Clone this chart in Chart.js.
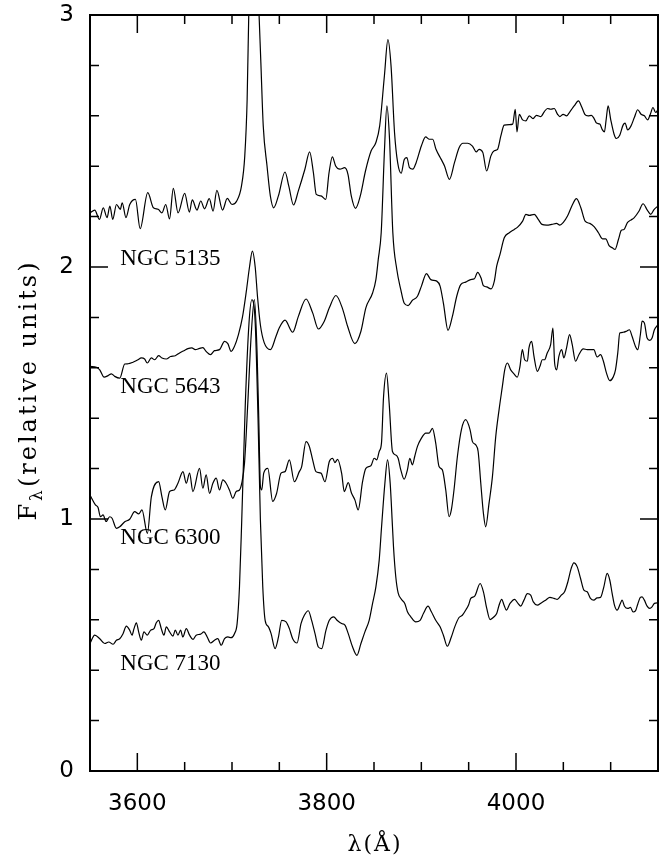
<!DOCTYPE html>
<html>
<head>
<meta charset="utf-8">
<script src="https://cdn.jsdelivr.net/npm/chart.js@4.4.1/dist/chart.umd.min.js"></script>
<style>
  html, body { margin: 0; padding: 0; background: #fff; }
  #spectra { display: block; }
</style>
</head>
<body>
<canvas id="spectra" width="661" height="861"></canvas>
<script>
// ===== DATA =====
const xTickLabels = [3600, 3800, 4000];
const yTickLabels = [0, 1, 2, 3];
const galaxyNames = ['NGC 5135', 'NGC 5643', 'NGC 6300', 'NGC 7130'];

// each spectrum: [wavelength (Å), relative flux]
const ngc5135 = [
  [3550, 2.215], [3555, 2.226], [3560, 2.189], [3564, 2.235], [3568, 2.196], [3571, 2.242],
  [3574, 2.189], [3578, 2.248], [3582, 2.229], [3584, 2.255], [3588, 2.196], [3592, 2.248],
  [3598, 2.268], [3603, 2.152], [3611, 2.295], [3617, 2.235], [3622, 2.229], [3626, 2.215],
  [3630, 2.248], [3634, 2.191], [3638, 2.312], [3643, 2.215], [3650, 2.292], [3655, 2.218],
  [3658, 2.266], [3663, 2.226], [3667, 2.262], [3671, 2.231], [3676, 2.271], [3680, 2.222],
  [3684, 2.304], [3690, 2.226], [3695, 2.272], [3700, 2.248], [3705, 2.262], [3710, 2.321],
  [3713.5, 2.441], [3716, 2.666], [3718, 3.06], [3723, 3.6], [3728, 3.06], [3730.5, 2.81],
  [3733, 2.56], [3737, 2.401], [3740.5, 2.282], [3744, 2.235], [3749, 2.282], [3756, 2.377],
  [3760, 2.321], [3765, 2.246], [3770, 2.301], [3777, 2.388], [3782, 2.457], [3786, 2.374],
  [3789, 2.288], [3794, 2.282], [3799, 2.268], [3802.5, 2.374], [3806, 2.437], [3809.5, 2.401],
  [3814, 2.388], [3819, 2.394], [3822.5, 2.368], [3826, 2.282], [3830.5, 2.233], [3835.5, 2.282],
  [3841, 2.381], [3847, 2.461], [3852, 2.494], [3856, 2.56], [3861, 2.759], [3864.7, 2.902],
  [3868, 2.798], [3871.7, 2.533], [3875, 2.414], [3878.7, 2.372], [3882, 2.427], [3884.7, 2.434],
  [3887.5, 2.394], [3891, 2.388], [3894.5, 2.414], [3900, 2.48], [3904.5, 2.516], [3908.5, 2.507],
  [3912, 2.507], [3915.5, 2.467], [3921, 2.427], [3924.5, 2.401], [3929.7, 2.348], [3935, 2.414],
  [3940, 2.474], [3944, 2.491], [3949, 2.491], [3954, 2.48], [3958, 2.457], [3961, 2.467],
  [3965, 2.454], [3969, 2.381], [3973.5, 2.441], [3977, 2.461], [3980.5, 2.467], [3984, 2.52],
  [3987.5, 2.563], [3993, 2.565], [3996.5, 2.567], [3999.2, 2.626], [4001, 2.536], [4003.5, 2.606],
  [4007, 2.584], [4010.5, 2.58], [4014, 2.6], [4018, 2.589], [4021.7, 2.602], [4026.3, 2.597],
  [4029.8, 2.616], [4033.3, 2.629], [4036.8, 2.626], [4040.4, 2.629], [4043.9, 2.606], [4046.3, 2.597],
  [4049.8, 2.606], [4053.4, 2.6], [4056.9, 2.616], [4061.4, 2.639], [4066, 2.659], [4069.2, 2.637],
  [4072.7, 2.606], [4076.2, 2.6], [4079.7, 2.602], [4082.5, 2.589], [4085, 2.571], [4088.5, 2.567],
  [4091.3, 2.544], [4093.4, 2.536], [4095.2, 2.584], [4097.3, 2.639], [4100.1, 2.584], [4103.6, 2.527],
  [4106.1, 2.51], [4109.6, 2.523], [4113.1, 2.563], [4115.2, 2.571], [4118, 2.544], [4121.5, 2.56],
  [4125, 2.593], [4128.6, 2.624], [4132.1, 2.606], [4135.6, 2.6], [4139.1, 2.584], [4141.9, 2.606],
  [4144.7, 2.633], [4147.5, 2.613], [4150, 2.624]
];

const ngc5643 = [
  [3550, 1.606], [3556.8, 1.602], [3560.3, 1.592], [3564.9, 1.563], [3569.1, 1.569], [3572.6, 1.576],
  [3576.1, 1.566], [3581.4, 1.559], [3586.7, 1.615], [3590.2, 1.616], [3595.4, 1.622], [3600.7, 1.632],
  [3604.2, 1.639], [3607.7, 1.635], [3610.5, 1.619], [3614.8, 1.639], [3618.3, 1.632], [3622.5, 1.648],
  [3626, 1.639], [3630.6, 1.635], [3635.1, 1.645], [3640.1, 1.648], [3644.6, 1.659], [3649.2, 1.668],
  [3653.4, 1.676], [3657.6, 1.679], [3661.2, 1.672], [3665.7, 1.677], [3669.2, 1.68], [3672.7, 1.665],
  [3677.3, 1.652], [3681.5, 1.668], [3686.8, 1.672], [3692.1, 1.705], [3695.6, 1.696], [3699.1, 1.665],
  [3702.6, 1.685], [3706.8, 1.732], [3711, 1.8], [3715, 1.9], [3718.5, 2.0], [3721.5, 2.063],
  [3724.5, 2.0], [3727, 1.88], [3730, 1.77], [3734, 1.7], [3740.6, 1.672],
  [3746.5, 1.725], [3749.5, 1.755], [3756, 1.789], [3764.1, 1.741], [3770.1, 1.804], [3778.2, 1.873],
  [3785.2, 1.818], [3791.2, 1.754], [3797.5, 1.785], [3802.8, 1.838], [3809.8, 1.887], [3816.8, 1.834],
  [3822.1, 1.765], [3829.8, 1.696], [3836.2, 1.745], [3841.4, 1.838], [3848.5, 1.897], [3852, 1.95],
  [3854.5, 2.03], [3857.6, 2.136], [3861.1, 2.467], [3863.6, 2.639], [3866.4, 2.507], [3869.9, 2.136],
  [3874.1, 1.99], [3878.3, 1.91], [3881.8, 1.857], [3886, 1.847], [3890.6, 1.868], [3895.9, 1.884],
  [3900.1, 1.924], [3905.4, 1.974], [3910, 1.95], [3916.3, 1.944], [3919.8, 1.924], [3923.3, 1.857],
  [3928.2, 1.749], [3932.8, 1.804], [3937.4, 1.884], [3941.6, 1.93], [3946.8, 1.94], [3952.1, 1.95],
  [3956, 1.953], [3959.5, 1.979], [3963, 1.957], [3965.5, 1.926], [3969, 1.921], [3973.6, 1.913],
  [3977.1, 1.944], [3979.6, 2.003], [3983.1, 2.05], [3987.6, 2.116], [3992.9, 2.136], [3998.2, 2.149],
  [4001.7, 2.158], [4007, 2.182], [4010.5, 2.209], [4014, 2.205], [4019.3, 2.209], [4023.5, 2.189],
  [4027.4, 2.169], [4032.3, 2.166], [4037.9, 2.169], [4042.8, 2.173], [4046.3, 2.166], [4049.8, 2.176],
  [4054.4, 2.202], [4059, 2.242], [4063.9, 2.271], [4068.5, 2.235], [4073, 2.182], [4078, 2.173],
  [4082.5, 2.16], [4087.1, 2.136], [4091.3, 2.112], [4094.8, 2.112], [4098.3, 2.085], [4101.8, 2.076],
  [4104.7, 2.07], [4108.2, 2.109], [4111.3, 2.146], [4114.1, 2.149], [4117.7, 2.176], [4121.2, 2.186],
  [4124.7, 2.195], [4130, 2.222], [4134.2, 2.251], [4138.7, 2.226], [4142.3, 2.209], [4145.8, 2.228],
  [4150, 2.242]
];

const ngc6300 = [
  [3550, 1.095], [3555.7, 1.056], [3558.5, 1.046], [3561, 1.009], [3563.8, 1.016], [3567, 0.99],
  [3570.8, 1.009], [3573.3, 1.003], [3577.9, 0.963], [3581.4, 0.969], [3586.7, 0.989], [3591.9, 0.999],
  [3597.2, 1.029], [3601.4, 1.02], [3604.9, 1.036], [3610.6, 0.943], [3614.8, 1.088], [3622.5, 1.148],
  [3626, 1.088], [3629.5, 1.036], [3634.1, 1.109], [3638.7, 1.115], [3642.9, 1.142], [3648.2, 1.188],
  [3651.7, 1.142], [3655.2, 1.182], [3658.7, 1.109], [3665.7, 1.201], [3669.2, 1.122], [3672.7, 1.175],
  [3676.3, 1.102], [3679.8, 1.142], [3683.3, 1.162], [3686.8, 1.115], [3690.3, 1.155], [3693.8, 1.142],
  [3697.3, 1.115], [3700.9, 1.082], [3704.4, 1.109], [3707.9, 1.115], [3710.3, 1.142], [3713.2, 1.221],
  [3716.7, 1.46], [3720.2, 1.725], [3723.7, 1.871], [3726.5, 1.659], [3728.3, 1.394], [3730, 1.129],
  [3731.4, 1.115], [3733.5, 1.182], [3737.8, 1.201], [3743, 1.07], [3747, 1.1], [3751.8, 1.182],
  [3756, 1.188], [3760.6, 1.235], [3765.9, 1.148], [3771.1, 1.188], [3773.6, 1.208], [3778.2, 1.307],
  [3781.7, 1.288], [3785.2, 1.235], [3788.7, 1.188], [3794, 1.182], [3798.2, 1.148], [3802.8, 1.228],
  [3806.3, 1.241], [3808.7, 1.224], [3811.6, 1.237], [3815.8, 1.182], [3818.6, 1.109], [3822.8, 1.144],
  [3826.3, 1.102], [3829.8, 1.076], [3833.3, 1.036], [3837.9, 1.148], [3841.4, 1.201], [3846.7, 1.211],
  [3850.2, 1.241], [3853, 1.235], [3855.5, 1.268], [3857.9, 1.301], [3860.1, 1.486], [3863.2, 1.579],
  [3866, 1.46], [3869.5, 1.268], [3873, 1.254], [3875.5, 1.241], [3878.3, 1.195], [3881.8, 1.158],
  [3885.3, 1.195], [3887.8, 1.241], [3890.6, 1.215], [3893, 1.248], [3895.9, 1.288], [3900.1, 1.321],
  [3904.7, 1.341], [3908.2, 1.341], [3911.7, 1.36], [3915.2, 1.301], [3918.7, 1.208], [3922.2, 1.195],
  [3925.8, 1.115], [3929.3, 1.009], [3931.7, 1.036], [3934.5, 1.115], [3938.1, 1.248], [3942.3, 1.354],
  [3946.8, 1.394], [3951.5, 1.354], [3954, 1.307], [3957.5, 1.294], [3960, 1.268], [3962.8, 1.142],
  [3965.6, 1.022], [3968, 0.969], [3971.5, 1.062], [3975.1, 1.168], [3978.6, 1.327], [3982.1, 1.433],
  [3985.6, 1.526], [3988.1, 1.592], [3990.9, 1.619], [3994.4, 1.592], [3997.9, 1.576], [4001.4, 1.563],
  [4004.2, 1.606], [4006.7, 1.672], [4009.1, 1.632], [4012, 1.626], [4013.7, 1.679], [4016.5, 1.705],
  [4019, 1.645], [4022.5, 1.586], [4025.3, 1.606], [4027.8, 1.632], [4030.2, 1.632], [4033, 1.659],
  [4036.6, 1.692], [4039, 1.758], [4040.8, 1.619], [4042.9, 1.592], [4045.3, 1.645], [4048.2, 1.672],
  [4050.6, 1.639], [4053.4, 1.679], [4056.6, 1.732], [4059.4, 1.692], [4062.9, 1.626], [4066.4, 1.652],
  [4071, 1.675], [4075.2, 1.672], [4082.2, 1.672], [4085.7, 1.643], [4089.3, 1.652], [4092.1, 1.629],
  [4095.6, 1.579], [4099.1, 1.549], [4102.6, 1.563], [4105.1, 1.592], [4107.5, 1.659], [4109.6, 1.738],
  [4113.2, 1.741], [4116.7, 1.745], [4119.8, 1.751], [4122.6, 1.725], [4126.2, 1.685], [4128.6, 1.672],
  [4131.4, 1.732], [4133.2, 1.785], [4135.6, 1.778], [4138.5, 1.718], [4141.3, 1.709], [4143.7, 1.718],
  [4146.2, 1.751], [4150, 1.771]
];

const ngc7130 = [
  [3550, 0.506], [3555, 0.539], [3560.3, 0.525], [3565.6, 0.506], [3569.8, 0.512], [3574.4, 0.503],
  [3577.9, 0.519], [3581.4, 0.525], [3584.9, 0.545], [3588.4, 0.575], [3591.9, 0.559], [3594.4, 0.539],
  [3596.5, 0.565], [3599, 0.588], [3601.4, 0.552], [3604.2, 0.519], [3607, 0.552], [3610.5, 0.539],
  [3614.1, 0.559], [3617.6, 0.565], [3620, 0.588], [3622.5, 0.598], [3625.3, 0.565], [3628.1, 0.539],
  [3630.6, 0.572], [3634.1, 0.552], [3637.6, 0.535], [3640.1, 0.559], [3642.9, 0.539], [3645.7, 0.559],
  [3648.1, 0.532], [3651.7, 0.565], [3655.2, 0.539], [3658.7, 0.522], [3662.2, 0.539], [3666.8, 0.543],
  [3670.3, 0.552], [3673.8, 0.532], [3677.3, 0.508], [3681.5, 0.519], [3685, 0.525], [3688.6, 0.499],
  [3692.1, 0.525], [3695.6, 0.532], [3699.1, 0.529], [3702.6, 0.545], [3705.4, 0.585], [3707.9, 0.731],
  [3710.3, 0.996], [3714, 1.45], [3718, 1.78], [3721, 1.87], [3724.5, 1.78], [3727.5, 1.4],
  [3730, 0.996], [3732.5, 0.731], [3735, 0.598], [3738.5, 0.572], [3741.3, 0.545], [3745.5, 0.486],
  [3749, 0.53], [3752.5, 0.598], [3757.1, 0.592], [3760.6, 0.565], [3764.1, 0.525], [3768.7, 0.508],
  [3772.9, 0.585], [3776.4, 0.618], [3780.6, 0.636], [3784.1, 0.598], [3787.7, 0.545], [3791.2, 0.492],
  [3794.7, 0.486], [3799.3, 0.559], [3802.8, 0.598], [3807.3, 0.612], [3811.6, 0.596], [3815.8, 0.585],
  [3819.3, 0.579], [3822.8, 0.545], [3827.4, 0.492], [3831.9, 0.459], [3836.2, 0.506], [3840.4, 0.552],
  [3844.9, 0.598], [3848.5, 0.665], [3852, 0.731], [3855.5, 0.837], [3858, 0.969], [3861.5, 1.142],
  [3864.3, 1.235], [3867.1, 1.142], [3869.5, 0.97], [3870.6, 0.89], [3873, 0.771], [3875.5, 0.707],
  [3879, 0.681], [3882.5, 0.665], [3885.3, 0.632], [3888.9, 0.612], [3894.1, 0.592], [3898.7, 0.598],
  [3902.2, 0.625], [3907.1, 0.654], [3910.6, 0.632], [3915.2, 0.598], [3919.8, 0.572], [3923.3, 0.539],
  [3927.5, 0.495], [3931.7, 0.532], [3935.3, 0.572], [3939.8, 0.609], [3943.3, 0.618], [3946.8, 0.638],
  [3950, 0.66], [3952.2, 0.685], [3956.4, 0.694], [3962.1, 0.744], [3965.6, 0.711], [3969.1, 0.645],
  [3972.6, 0.601], [3976.8, 0.612], [3979.6, 0.625], [3982.1, 0.658], [3984.9, 0.681], [3987.4, 0.658],
  [3989.8, 0.638], [3993.7, 0.665], [3998.6, 0.681], [4002.1, 0.665], [4004.9, 0.654], [4008.4, 0.678],
  [4012, 0.704], [4015.5, 0.698], [4018.3, 0.671], [4022.5, 0.658], [4026.7, 0.667], [4031.3, 0.678],
  [4035.8, 0.689], [4040.1, 0.685], [4043.6, 0.681], [4047.8, 0.698], [4051.3, 0.711], [4054.8, 0.751],
  [4058.3, 0.804], [4061.1, 0.826], [4064.7, 0.81], [4068.2, 0.764], [4071.7, 0.718], [4075.2, 0.711],
  [4078.7, 0.685], [4082.2, 0.678], [4085.7, 0.687], [4089.3, 0.689], [4092.8, 0.731], [4096.3, 0.784],
  [4099.1, 0.757], [4101.6, 0.704], [4104, 0.658], [4106.8, 0.638], [4110.3, 0.665], [4112.1, 0.678],
  [4114.6, 0.654], [4118.1, 0.645], [4120.9, 0.649], [4123.7, 0.631], [4126.2, 0.635], [4128.6, 0.662],
  [4131.4, 0.689], [4133.2, 0.691], [4135.6, 0.678], [4138.5, 0.654], [4141.3, 0.645], [4143.7, 0.651],
  [4146.2, 0.665], [4150, 0.667]
];

const spectra = [ngc5135, ngc5643, ngc6300, ngc7130];
// where each galaxy name is written, in data units (λ, F)
const labelAnchors = [[3582, 2.03], [3582, 1.525], [3582, 0.926], [3582, 0.425]];

// ===== CHART =====
const tickFont = { family: '"DejaVu Sans", sans-serif', size: 23 };
const titleFamily = '"DejaVu Serif", serif';

// draw text with extra letter spacing
function spacedText(ctx, text, x, y, spacing) {
    let cx = x;
    for (const ch of text) {
        ctx.fillText(ch, cx, y);
        cx += ctx.measureText(ch).width + spacing;
    }
    return cx;
}
function spacedWidth(ctx, text, spacing) {
    let w = 0;
    for (const ch of text) w += ctx.measureText(ch).width + spacing;
    return w;
}

// the frame is fixed, so labels must not push the plot area around
function fixBox(size, horizontal) {
    return (s) => {
        if (horizontal) s.height = size; else s.width = size;
        s.paddingTop = 0; s.paddingBottom = 0; s.paddingLeft = 0; s.paddingRight = 0;
    };
}

// inward ticks on all four sides, frame, galaxy names and axis titles
const frameAndLabels = {
    id: 'frameAndLabels',
    afterDraw(chart) {
        const { ctx, chartArea: a, scales: { x, y } } = chart;
        ctx.save();
        ctx.strokeStyle = '#000';
        ctx.lineWidth = 1.5;
        ctx.beginPath();
        for (let v = x.min; v <= x.max; v += 50) {
            const px = x.getPixelForValue(v);
            const len = v % 200 === 0 ? 18 : 9;
            ctx.moveTo(px, a.bottom); ctx.lineTo(px, a.bottom - len);
            ctx.moveTo(px, a.top); ctx.lineTo(px, a.top + len);
        }
        for (let i = 0; i <= 15; i++) {
            const py = y.getPixelForValue(i * 0.2);
            const len = i % 5 === 0 ? 18 : 9;
            ctx.moveTo(a.left, py); ctx.lineTo(a.left + len, py);
            ctx.moveTo(a.right, py); ctx.lineTo(a.right - len, py);
        }
        ctx.stroke();
        ctx.lineWidth = 2;
        ctx.strokeRect(a.left, a.top, a.right - a.left, a.bottom - a.top);

        // galaxy names
        ctx.fillStyle = '#000';
        ctx.font = '23px "Liberation Serif", serif';
        ctx.textAlign = 'left';
        ctx.textBaseline = 'middle';
        galaxyNames.forEach((name, i) => {
            const [lx, ly] = labelAnchors[i];
            ctx.fillText(name, x.getPixelForValue(lx), y.getPixelForValue(ly));
        });

        // x title
        ctx.font = '22px ' + titleFamily;
        ctx.textBaseline = 'alphabetic';
        const xt = 'λ(Å)';
        const wx = spacedWidth(ctx, xt, 2) - 2;
        spacedText(ctx, xt, (a.left + a.right) / 2 - wx / 2, 851, 2);

        // y title: F with subscript lambda, rotated
        const big = '24px ' + titleFamily;
        const small = '17px ' + titleFamily;
        const gap = 3;
        const rest = '(relative units)';
        ctx.font = big;
        const wF = ctx.measureText('F').width + gap;
        const wRest = spacedWidth(ctx, rest, gap);
        ctx.font = small;
        const wL = ctx.measureText('λ').width + gap;
        const total = wF + wL + wRest;
        ctx.translate(36, 390);
        ctx.rotate(-Math.PI / 2);
        let cx = -total / 2;
        ctx.font = big;
        ctx.fillText('F', cx, 0);
        cx += wF;
        ctx.font = small;
        ctx.fillText('λ', cx, 6);
        cx += wL;
        ctx.font = big;
        spacedText(ctx, rest, cx, 0, gap);
        ctx.restore();
    }
};

const ctx = document.getElementById('spectra').getContext('2d');
new Chart(ctx, {
    type: 'line',
    data: {
        datasets: spectra.map((s, i) => ({
            label: galaxyNames[i],
            data: s.map(([lam, f]) => ({ x: lam, y: f })),
            borderColor: '#000',
            borderWidth: 1.2,
            pointRadius: 0,
            fill: false,
            cubicInterpolationMode: 'monotone'
        }))
    },
    options: {
        responsive: false,
        animation: false,
        devicePixelRatio: 1,
        layout: { padding: { top: 15, right: 3, left: 0, bottom: 0 } },
        plugins: { legend: { display: false }, tooltip: { enabled: false } },
        scales: {
            x: {
                type: 'linear',
                min: 3550,
                max: 4150,
                grid: { display: false, drawTicks: false },
                border: { display: false },
                afterBuildTicks: (s) => { s.ticks = xTickLabels.map(v => ({ value: v })); },
                afterFit: fixBox(90, true),
                ticks: { color: '#000', font: tickFont, padding: 19, maxRotation: 0, autoSkip: false, callback: (v) => String(v) }
            },
            y: {
                type: 'linear',
                min: 0,
                max: 3,
                grid: { display: false, drawTicks: false },
                border: { display: false },
                afterBuildTicks: (s) => { s.ticks = yTickLabels.map(v => ({ value: v })); },
                afterFit: fixBox(90, false),
                ticks: { color: '#000', font: tickFont, padding: 16, callback: (v) => String(v) }
            }
        }
    },
    plugins: [frameAndLabels]
});
</script>
</body>
</html>
